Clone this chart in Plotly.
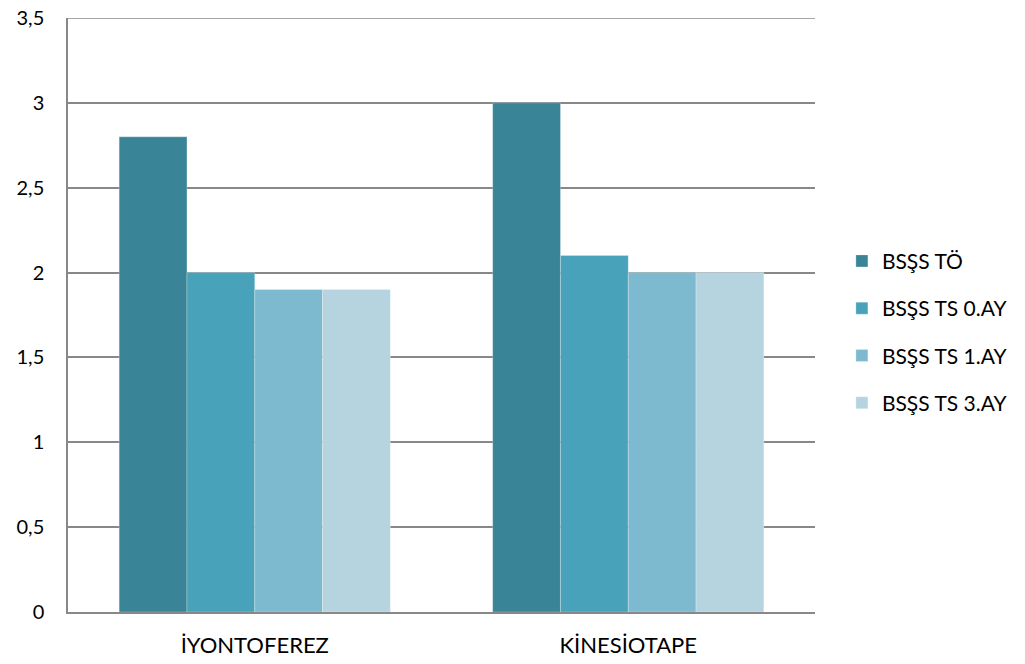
import plotly.graph_objects as go

categories = ["İYONTOFEREZ", "KİNESİOTAPE"]
series_names = ["BSŞS TÖ", "BSŞS TS 0.AY", "BSŞS TS 1.AY", "BSŞS TS 3.AY"]
series_values = [
    [2.8, 3.0],
    [2.0, 2.1],
    [1.9, 2.0],
    [1.9, 2.0],
]
colors = ["#3A8497", "#48A2BA", "#7DBACF", "#B6D4DF"]
y_ticks = [0, 0.5, 1, 1.5, 2, 2.5, 3, 3.5]
y_ticktext = ["0", "0,5", "1", "1,5", "2", "2,5", "3", "3,5"]

fig = go.Figure()
for i, (name, vals) in enumerate(zip(series_names, series_values)):
    fig.add_trace(go.Bar(
        x=categories, y=vals, name=name, legendgroup=f"g{i}",
        marker=dict(color=colors[i], line=dict(color="rgba(255,255,255,0.5)", width=0.5)),
    ))

font_family = "Lato, Open Sans, sans-serif"
fig.update_layout(
    width=1025, height=664,
    margin=dict(l=68, r=208, t=18, b=52),
    plot_bgcolor="white", paper_bgcolor="white",
    barmode="group", bargap=0.274, bargroupgap=0,
    separators=", ",
    font=dict(family=font_family, color="#000000"),
    showlegend=True,
    legend=dict(
        x=1.036, xanchor="left", y=0.471, yanchor="middle",
        font=dict(size=21, family=font_family, color="#000000"),
        tracegroupgap=17, itemwidth=30,
    ),
    yaxis=dict(
        range=[0, 3.5], tickvals=y_ticks, ticktext=y_ticktext,
        showgrid=True, gridcolor="#888888", gridwidth=1.5,
        showline=True, linecolor="#888888", linewidth=1.5,
        zeroline=False, ticks="", ticklen=0, automargin=False,
        tickfont=dict(size=20, family=font_family, color="#000000"),
        ticklabelstandoff=18,
    ),
    xaxis=dict(
        showline=True, linecolor="#888888", linewidth=1.5,
        showgrid=False, ticks="", automargin=False,
        tickfont=dict(size=22, family=font_family, color="#000000"),
        ticklabelstandoff=13,
    ),
    shapes=[dict(type="line", xref="paper", yref="y", x0=0, x1=1, y0=3.5, y1=3.5,
                 line=dict(color="#888888", width=1.5), layer="below")],
)

fig.write_html("out.html")
